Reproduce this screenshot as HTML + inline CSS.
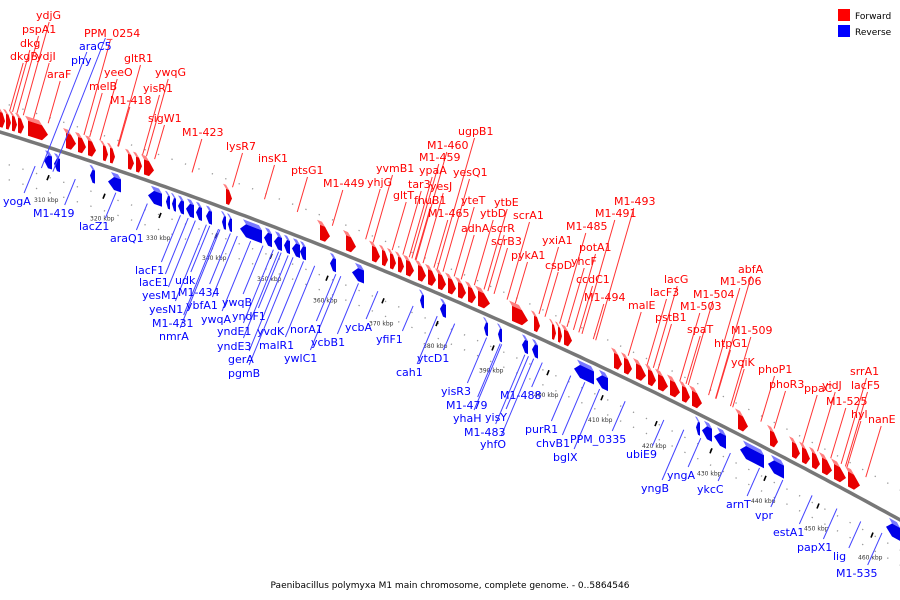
<!DOCTYPE html>
<html><head><meta charset="utf-8">
<style>
html,body{margin:0;padding:0;background:#fff;}
svg{display:block;font-family:"DejaVu Sans","Liberation Sans",sans-serif;}
</style></head>
<body>
<svg id="chart" width="900" height="600" viewBox="0 0 900 600">
  <g id="guides"></g>
  <path id="axis" fill="none" stroke="#777" stroke-width="3.5"/>
  <g id="genes"></g>
  <g id="leaders"></g>
  <g id="labels"></g>
  <g>
    <rect x="838" y="9" width="12" height="12" fill="#f00"/>
    <text x="855" y="19" font-size="9">Forward</text>
    <rect x="838" y="25" width="12" height="12" fill="#00f"/>
    <text x="855" y="35" font-size="9">Reverse</text>
  </g>
  <text x="450" y="588" font-size="9" text-anchor="middle">Paenibacillus polymyxa M1 main chromosome, complete genome. - 0..5864546</text>
</svg>
<script>
// forward gene extents (screen x along axis)
const fwdStart=[0,6,12,18,28,66,78,88,103,110,128,136,144,226,320,346,372,382,390,398,406,418,428,438,448,458,468,478,512,534,552,558,564,614,624,636,648,658,670,682,692,738,770,792,802,812,822,834,848];
const fwdEnd  =[5,11,17,24,48,76,86,96,108,115,134,142,154,232,330,356,380,388,396,404,414,426,436,446,456,466,476,490,528,540,556,562,572,622,632,646,656,668,680,690,702,748,778,800,810,820,832,846,860];
// reverse gene extents
const revStart=[44,54,90,108,148,166,172,178,186,196,206,222,228,240,264,274,284,292,300,330,352,420,440,484,498,522,532,574,596,696,702,714,740,768,886];
const revEnd  =[52,60,95,121,162,170,176,184,194,202,212,226,232,262,272,282,290,300,306,336,364,424,446,488,502,528,538,594,608,700,712,726,764,784,900];
// labels
const fwdNames=["ydjG","pspA1","dkg","dkgB","ydjI","araF","PPM_0254","melB","yeeO","gltR1","ywqG","yisR1","M1-418","sigW1","M1-423","lysR7","insK1","ptsG1","M1-449","yhjG","yvmB1","gltT","tar3","fhuB1","ypaA","yesJ","M1-459","M1-460","ugpB1","yesQ1","M1-465","yteT","adhA","ytbD","scrR","ytbE","scrB3","scrA1","pykA1","yxiA1","cspD","M1-485","M1-491","M1-493","potA1","yhcF","ccdC1","M1-494","lacG","malE","lacF3","pstB1","abfA","M1-506","M1-504","M1-503","spaT","M1-509","htpG1","yqiK","phoP1","phoR3","srrA1","ppaC","yidJ","lacF5","M1-525","hyl","nanE"];
const fwdLabelX=[36,22,20,10,36,47,84,89,104,124,155,143,110,148,182,226,258,291,323,367,376,393,408,414,419,430,419,427,458,453,428,461,461,480,491,494,491,513,511,542,545,566,595,614,579,571,576,584,664,628,650,655,738,720,693,680,687,731,714,731,758,769,850,804,822,851,826,851,868];
const fwdLabelY=[19,33,47,60,60,78,37,90,76,62,76,92,104,122,136,150,162,174,187,186,172,199,188,204,174,190,161,149,135,176,217,204,232,217,232,206,245,219,259,244,269,230,217,205,251,265,283,301,283,309,296,321,273,285,298,310,333,334,347,366,373,388,375,392,389,389,405,418,423];
const revNames=["araC5","phy","yogA","M1-419","lacZ1","araQ1","lacF1","lacE1","yesM1","yesN1","M1-431","nmrA","udk","M1-434","ybfA1","ywqB","ywqA","yndF1","yndE1","yndE3","gerA","pgmB","yvdK","malR1","ywlC1","norA1","ycbB1","ycbA","yfiF1","ytcD1","cah1","yisR3","M1-479","yhaH","M1-488","yisY","M1-483","yhfO","purR1","chvB1","PPM_0335","bglX","ubiE9","yngA","yngB","ykcC","arnT","vpr","estA1","papX1","lig","M1-535"];
const revLabelX=[79,71,3,33,79,110,135,139,142,149,152,159,175,178,186,222,201,232,217,217,228,228,257,259,284,290,311,345,376,417,396,441,446,453,500,485,464,480,525,536,570,553,626,667,641,697,726,755,773,797,833,836];
const revLabelY=[50,64,205,217,230,242,274,286,299,313,327,340,284,296,309,306,323,320,335,350,363,377,335,349,362,333,346,331,343,362,376,395,409,422,399,421,436,448,433,447,443,461,458,479,492,493,508,519,536,551,560,577];
// scale ticks (kbp)
const kbpTicks=[310,320,330,340,350,360,370,380,390,400,410,420,430,440,450,460];
const kbpAxisX=[48,104,160,216,271,327,383,437,493,548,602,656,711,765,818,872];

const NS="http://www.w3.org/2000/svg";
function lineY(x){return 132+0.3095*x+0.000135*x*x;}
function mk(tag,attrs,parent){const e=document.createElementNS(NS,tag);for(const k in attrs)e.setAttribute(k,attrs[k]);parent.appendChild(e);return e;}

const axisEl=document.getElementById('axis');
let d='';for(let x=-5;x<=905;x+=5){d+=(x===-5?'M':'L')+x+','+lineY(x).toFixed(1);}
axisEl.setAttribute('d',d);

const guides=document.getElementById('guides');
[-30,30,45].forEach((off)=>{
  let p='';for(let x=-5;x<=905;x+=5){p+=(x===-5?'M':'L')+x+','+(lineY(x)+off).toFixed(1);}
  const g=mk('path',{d:p,fill:'none',stroke:'#999','stroke-width':1.3,'stroke-dasharray':'1.3 13'},guides);
  
  
});
kbpTicks.forEach((k,i)=>{
  const x=kbpAxisX[i];
  const t=mk('line',{x1:x-1,y1:lineY(x)+33,x2:x+1,y2:lineY(x)+28,stroke:'#000','stroke-width':1.6},guides);
  
  
  const tx=mk('text',{x:x-14,y:lineY(x)+55,'font-size':6,fill:'#333'},guides);
  tx.textContent=k+' kbp';
  
  
});

const genes=document.getElementById('genes');
function P(p){return p[0]+','+(lineY(p[0])+p[1]).toFixed(1);}
function gene(x1,x2,fwd){
  const top=fwd?-20:8, bot=fwd?-5:21;
  const tip=Math.min(6,(x2-x1)*0.5);
  let pts;
  if(fwd){pts=[[x1,top],[x2-tip,top],[x2,(top+bot)/2],[x2-tip,bot],[x1,bot]];}
  else{pts=[[x1+tip,top],[x2,top],[x2,bot],[x1+tip,bot],[x1,(top+bot)/2]];}
  const g=mk('g',{},genes);
  
  
  // 3D top face
  const a=fwd?x1:x1+tip, b=fwd?x2-tip:x2;
  const face=[[a,top],[b,top],[b-3,top-4],[a-3,top-4]].map(P).join(' ');
  mk('polygon',{points:face,fill:fwd?'#ff8080':'#7878ff'},g);
  mk('polygon',{points:pts.map(P).join(' '),fill:fwd?'#e80000':'#0000e8'},g);
}
fwdStart.forEach((s,i)=>gene(s,fwdEnd[i],true));
revStart.forEach((s,i)=>gene(s,revEnd[i],false));

const leaders=document.getElementById('leaders'), labels=document.getElementById('labels');
function label(name,x,y,fwd){
  const w=name.length*6.6;
  const cx=x+w/2;
  let gx,gy,ax,ay;
  if(fwd){ax=cx;ay=y+3;gx=cx-0.25*(lineY(cx)-22-ay);gy=lineY(gx)-24;}
  else{ax=cx+w*0.3;ay=y-12;gx=ax+0.35*(ay-(lineY(ax)+22));gy=lineY(gx)+23;}
  const l=mk('line',{x1:ax,y1:ay,x2:gx,y2:gy,stroke:fwd?'#f33':'#44f','stroke-width':1},leaders);
  
  
  const t=mk('text',{x:x,y:y,'font-size':11,fill:fwd?'#f00':'#00f'},labels);
  t.textContent=name;
  
  
}
fwdNames.forEach((n,i)=>label(n,fwdLabelX[i],fwdLabelY[i],true));
revNames.forEach((n,i)=>label(n,revLabelX[i],revLabelY[i],false));
</script>
</body></html>
